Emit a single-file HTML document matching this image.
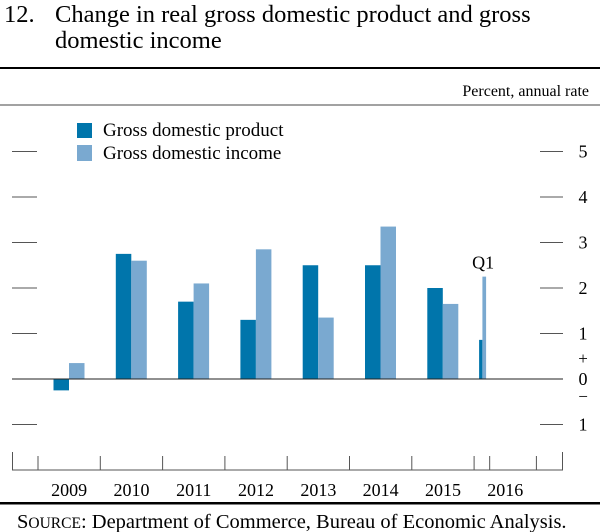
<!DOCTYPE html>
<html><head><meta charset="utf-8">
<style>
body{margin:0;background:#fff;}
svg{display:block;font-family:"Liberation Serif",serif;}
</style></head>
<body>
<svg width="600" height="532" viewBox="0 0 600 532" xmlns="http://www.w3.org/2000/svg">
<text x="4" y="22" font-size="24.5">12.</text>
<text x="55" y="22" font-size="24.5">Change in real gross domestic product and gross</text>
<text x="55" y="48" font-size="24.5">domestic income</text>
<rect x="0" y="67" width="600" height="2" fill="#000"/>
<text x="589" y="96" font-size="16" text-anchor="end">Percent, annual rate</text>
<rect x="0" y="104.5" width="600" height="1" fill="#444"/>
<g>
<rect x="77" y="123" width="15" height="15" fill="#0075ab"/>
<text x="103" y="136" font-size="19">Gross domestic product</text>
<rect x="77" y="145" width="15" height="16" fill="#7aa9d0"/>
<text x="103" y="159" font-size="19">Gross domestic income</text>
</g>
<g id="plot"></g>
<rect x="0" y="502" width="600" height="2.5" fill="#000"/>
<text x="17" y="528" font-size="20.5"><tspan>S</tspan><tspan font-size="15.5">OURCE</tspan>:  Department of Commerce, Bureau of Economic Analysis.</text>
</svg>
<script>
const years = ['2009','2010','2011','2012','2013','2014','2015'];
const gdp = [-0.25, 2.75, 1.7, 1.3, 2.5, 2.5, 2.0];
const gdi = [0.35, 2.6, 2.1, 2.85, 1.35, 3.35, 1.65];
const q1Gdp = [0.86];
const q1Gdi = [2.25];
const yTicks = [5,4,3,2,1,-1];
const yTickLabels = ['5','4','3','2','1','1'];
const xLabels = ['2009','2010','2011','2012','2013','2014','2015','2016'];

const NS='http://www.w3.org/2000/svg';
const g=document.getElementById('plot');
const x0=38, pw=62.3, zeroY=379, unit=45.5;
const yS=v=>zeroY-v*unit;
const xS=i=>x0+i*pw;
function mk(t,a){const e=document.createElementNS(NS,t);for(const k in a)e.setAttribute(k,a[k]);g.appendChild(e);return e;}
yTicks.forEach((v,i)=>{
  const l=mk('line',{x1:12,x2:37,y1:yS(v),y2:yS(v),stroke:'#555','stroke-width':1});
  
  
  const r=mk('line',{x1:540,x2:563,y1:yS(v),y2:yS(v),stroke:'#555','stroke-width':1});
  
  
  const t=mk('text',{x:583,y:yS(v)+6,'font-size':18,'text-anchor':'middle'});
  t.textContent=yTickLabels[i];
  
  
});
const bw=15.5;
years.forEach((y,i)=>{
  const xa=xS(i)+15.5;
  const b1=mk('rect',{x:xa,y:Math.min(yS(gdp[i]),zeroY),width:bw,height:Math.abs(gdp[i])*unit,fill:'#0075ab'});
  
  
  const b2=mk('rect',{x:xa+bw,y:Math.min(yS(gdi[i]),zeroY),width:bw,height:Math.abs(gdi[i])*unit,fill:'#7aa9d0'});
  
  
});
const qx=xS(7)+5;
const qb1=mk('rect',{x:qx,y:yS(q1Gdp[0]),width:3.3,height:q1Gdp[0]*unit,fill:'#0075ab'});


const qb2=mk('rect',{x:qx+3.3,y:yS(q1Gdi[0]),width:3.7,height:q1Gdi[0]*unit,fill:'#7aa9d0'});


const ql=mk('text',{x:qx+4,y:yS(q1Gdi[0])-8,'font-size':18,'text-anchor':'middle'});
ql.textContent='Q1';


const zl=mk('line',{x1:12,x2:563,y1:zeroY,y2:zeroY,stroke:'#222','stroke-width':1});


const pl=mk('text',{x:583,y:364,'font-size':17,'text-anchor':'middle'});pl.textContent='+';


const zt=mk('text',{x:583,y:385,'font-size':18,'text-anchor':'middle'});zt.textContent='0';


const mn=mk('text',{x:583,y:402,'font-size':17,'text-anchor':'middle'});mn.textContent='\u2212';


const ax=mk('line',{x1:12,x2:563,y1:470,y2:470,stroke:'#555','stroke-width':1});


const tk=[12.5];for(let i=0;i<=8;i++)tk.push(xS(i));tk.push(xS(7)+pw/4);tk.push(562.5);
tk.forEach((t,i)=>{
  const top=(i===0||i===tk.length-1)?452:456;
  const l=mk('line',{x1:t,x2:t,y1:top,y2:470,stroke:'#555','stroke-width':1});
  
  
});
xLabels.forEach((y,i)=>{
  const t=mk('text',{x:xS(i)+pw/2,y:496,'font-size':18,'text-anchor':'middle'});
  t.textContent=y;
  
  
});
</script>
</body></html>
